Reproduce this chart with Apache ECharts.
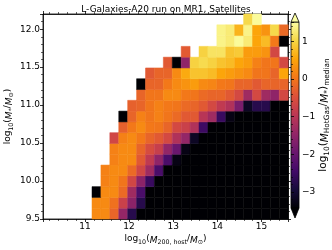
<!DOCTYPE html>
<html><head><meta charset="utf-8">
<script src="https://cdn.jsdelivr.net/npm/echarts@6/dist/echarts.min.js"></script>
<style>html,body{margin:0;padding:0;background:#fff}#c{width:332px;height:250px}</style>
</head><body><div id="c"></div>
<script>
// ---- axis ranges / bins ----
const xRange = [10.05, 15.6];
const yRange = [9.5, 12.2];
const cRange = [-3.43, 1.52];
const xBinStart = 11.16, xBinWidth = 0.202;
const yBinStart = 9.5, yBinWidth = 2.7 / 19;
const B = -4; // below colour range (drawn black)
const N = null; // empty bin
// median log10(M_HotGas/M*) per bin; rows from bottom (row00) to top (row18), 22 columns each
const row00 = [0.23,0.23,-0.21,-1.45,-2.74,B,B,B,B,B,B,B,B,B,B,B,B,B,B,B,B,B];
const row01 = [0.23,0.23,-0.06,-0.76,-1.55,-2.74,B,B,B,B,B,B,B,B,B,B,B,B,B,B,B,B];
const row02 = [B,0.23,0.23,-0.14,-1.3,-2.34,B,B,B,B,B,B,B,B,B,B,B,B,B,B,B,B];
const row03 = [N,0.13,0.23,0.0,-0.66,-1.55,-2.54,B,B,B,B,B,B,B,B,B,B,B,B,B,B,B];
const row04 = [N,0.13,0.23,0.23,-0.14,-0.66,-1.3,-2.34,B,B,B,B,B,B,B,B,B,B,B,B,B,B];
const row05 = [N,N,0.13,0.23,0.23,-0.36,-0.9,-1.5,-2.34,-3.28,B,B,B,B,B,B,B,B,B,B,B,B];
const row06 = [N,N,0.13,0.23,0.23,-0.21,-0.56,-0.81,-1.45,-1.95,-3.28,B,B,B,B,B,B,B,B,B,B,B];
const row07 = [N,N,-0.66,0.13,0.23,0.04,-0.21,-0.36,-0.61,-1.1,-1.45,-3.13,B,B,B,B,B,B,B,B,B,B];
const row08 = [N,N,N,-0.26,0.04,0.23,0.04,0.0,-0.21,-0.61,-0.76,-1.1,-2.5,B,B,B,B,B,B,B,B,B];
const row09 = [N,N,N,B,-0.21,0.13,0.0,0.13,0.0,-0.14,-0.36,-0.36,-1.0,-1.3,-2.54,-3.28,B,B,B,B,B,B];
const row10 = [N,N,N,N,-0.26,-0.21,0.0,0.13,0.04,0.0,-0.14,-0.21,-0.36,-0.61,-0.9,-1.1,-1.75,-3.13,-2.74,-2.74,B,B];
const row11 = [N,N,N,N,N,-0.21,0.0,0.0,0.23,0.23,0.04,0.0,-0.14,-0.21,-0.21,-0.36,-0.61,-1.3,-0.61,-1.3,-1.5,-0.63];
const row12 = [N,N,N,N,N,B,-0.21,-0.21,0.04,0.23,0.33,0.43,0.23,0.18,0.04,0.0,-0.21,-0.21,-0.36,-0.21,-0.21,-0.21];
const row13 = [N,N,N,N,N,N,-0.36,-0.21,-0.21,0.23,0.58,0.83,0.83,0.75,0.53,0.43,0.33,0.23,0.0,0.0,-0.21,0.53];
const row14 = [N,N,N,N,N,N,N,N,-0.36,B,-1.5,0.98,1.07,0.98,0.83,0.75,0.53,0.43,0.13,0.0,0.0,-0.63];
const row15 = [N,N,N,N,N,N,N,N,N,N,-0.34,N,0.98,1.17,1.17,0.83,0.9,0.43,0.43,0.33,-0.63,N];
const row16 = [N,N,N,N,N,N,N,N,N,N,N,N,N,N,1.37,1.27,1.47,1.27,0.53,0.75,0.04,B];
const row17 = [N,N,N,N,N,N,N,N,N,N,N,N,N,N,1.37,1.27,0.68,1.37,0.53,0.33,1.05,-0.16];
const row18 = [N,N,N,N,N,N,N,N,N,N,N,N,N,N,N,N,N,1.05,1.47,N,N,N];
const rowsList = [row00,row01,row02,row03,row04,row05,row06,row07,row08,row09,row10,row11,row12,row13,row14,row15,row16,row17,row18];
// colour-bar ticks
const cbTicks = [-3,-2,-1,0,1];

// inferno colormap stops
const inferno = ['#000004','#160b39','#420a68','#6a176e','#932667','#bc3754','#dd513a','#f37819','#fca50a','#f6d746','#fcffa4'];
function hex2rgb(h){return [parseInt(h.slice(1,3),16),parseInt(h.slice(3,5),16),parseInt(h.slice(5,7),16)];}
function cmap(v){
  if (v < cRange[0]) return inferno[0];
  if (v > cRange[1]) return inferno[inferno.length-1];
  let t = (v - cRange[0]) / (cRange[1] - cRange[0]);
  const f = t * (inferno.length - 1);
  const i = Math.min(Math.floor(f), inferno.length - 2);
  const u = f - i;
  const a = hex2rgb(inferno[i]), b = hex2rgb(inferno[i+1]);
  const c = a.map((x,k)=>Math.round(x + (b[k]-x)*u));
  return 'rgb(' + c.join(',') + ')';
}

const cells = [];
rowsList.forEach((row, r) => row.forEach((v, c) => {
  if (v !== null) cells.push([xBinStart + c*xBinWidth, yBinStart + r*yBinWidth, v]);
}));

const FF = 'DejaVu Sans';
const rich = (fs) => ({
  n: {fontSize: fs, fontFamily: FF, color:'#000', lineHeight: fs+4, verticalAlign:'bottom'},
  i: {fontSize: fs, fontFamily: FF, fontStyle:'italic', color:'#000', lineHeight: fs+4, verticalAlign:'bottom'},
  s: {fontSize: fs*0.7, fontFamily: FF, color:'#000', lineHeight: fs*0.7+1, verticalAlign:'bottom'}
});

const axLine = {show:true, onZero:false, lineStyle:{color:'#000', width:0.8}};
const tick = {show:true, length:3, lineStyle:{color:'#000', width:0.8}};
const mtick = {show:true, splitNumber:5, length:2, lineStyle:{color:'#000', width:0.6}};
const lab = {fontSize:9, fontFamily:FF, color:'#000', margin:3, showMinLabel:false, showMaxLabel:false};

const chart = echarts.init(document.getElementById('c'), null, {renderer:'canvas'});
chart.setOption({
  animation:false,
  backgroundColor:'#fff',
  title:{text:'L-Galaxies-A20 run on MR1, Satellites', left:'center', top:0,
    textStyle:{fontSize:9, fontWeight:'normal', fontFamily:FF, color:'#000'}},
  grid:[
    {left:43, top:14, width:245, height:205, show:true, borderColor:'#000', borderWidth:0.8,
     containLabel:false, outerBoundsMode:'none'},
    {left:291, top:22, width:8, height:186, show:true, borderColor:'#000', borderWidth:0.8,
     containLabel:false, outerBoundsMode:'none',
     backgroundColor:{type:'linear', x:0, y:1, x2:0, y2:0,
       colorStops: inferno.map((c,i)=>({offset:i/(inferno.length-1), color:c}))}}
  ],
  xAxis:[
    {type:'value', gridIndex:0, min:xRange[0], max:xRange[1], position:'bottom',
     axisLine:axLine, axisTick:tick, minorTick:mtick, splitLine:{show:false}, axisLabel:lab,
     name:'log{s|10}({i|M}{s|200, host}/{i|M}{s|⊙})', nameLocation:'middle', nameGap:13, nameMoveOverlap:false,
     nameTextStyle:{fontSize:9, fontFamily:FF, color:'#000', rich:rich(9)}},
    {type:'value', gridIndex:0, min:xRange[0], max:xRange[1], position:'top',
     axisLine:axLine, axisTick:tick, minorTick:mtick, splitLine:{show:false}, axisLabel:{show:false}},
    {type:'value', gridIndex:1, min:0, max:1, show:false}
  ],
  yAxis:[
    {type:'value', gridIndex:0, min:yRange[0], max:yRange[1], position:'left',
     axisLine:axLine, axisTick:tick, minorTick:mtick, splitLine:{show:false},
     axisLabel:Object.assign({}, lab, {showMinLabel:true, formatter:(v)=>v.toFixed(1)}),
     name:'log{s|10}({i|M}{s|*}/{i|M}{s|⊙})', nameLocation:'middle', nameGap:29, nameRotate:90, nameMoveOverlap:false,
     nameTextStyle:{fontSize:9, fontFamily:FF, color:'#000', rich:rich(9)}},
    {type:'value', gridIndex:0, min:yRange[0], max:yRange[1], position:'right',
     axisLine:axLine, axisTick:tick, minorTick:mtick, splitLine:{show:false}, axisLabel:{show:false}},
    {type:'value', gridIndex:1, min:cRange[0], max:cRange[1], position:'right',
     axisLine:{show:false}, axisTick:tick, minorTick:mtick, splitLine:{show:false},
     axisLabel:Object.assign({}, lab, {formatter:(v)=>cbTicks.includes(v)?String(v).replace('-','−'):''}),
     name:'log{s|10}({i|M}{s|HotGas}/{i|M}{s|*}){s|median}', nameLocation:'middle', nameGap:17, nameRotate:90, nameMoveOverlap:false,
     nameTextStyle:{fontSize:10.5, fontFamily:FF, color:'#000', rich:rich(10.5)}}
  ],
  graphic:[
    {type:'polygon', shape:{points:[[291,22],[299,22],[295,13]]}, style:{fill:inferno[inferno.length-1], stroke:'#000', lineWidth:0.8}, z:10},
    {type:'polygon', shape:{points:[[291,208],[299,208],[295,218]]}, style:{fill:inferno[0], stroke:'#000', lineWidth:0.8}, z:10}
  ],
  series:[{
    type:'custom', xAxisIndex:0, yAxisIndex:0, data:cells, encode:{x:0, y:1},
    renderItem:(params, api)=>{
      const x0 = api.value(0), y0 = api.value(1), v = api.value(2);
      const p0 = api.coord([x0, y0 + yBinWidth]);
      const p1 = api.coord([x0 + xBinWidth, y0]);
      const col = cmap(v);
      return {type:'rect', shape:{x:p0[0], y:p0[1], width:p1[0]-p0[0], height:p1[1]-p0[1]},
        style:{fill:col, stroke:col, lineWidth:0.5}};
    }
  }]
});
</script></body></html>
